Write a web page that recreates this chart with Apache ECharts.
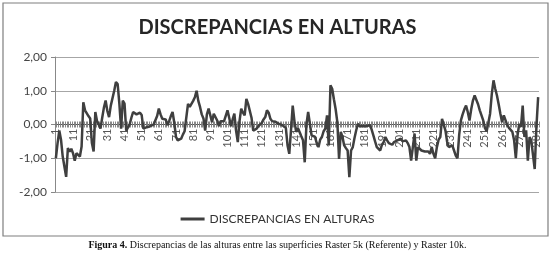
<!DOCTYPE html>
<html><head><meta charset="utf-8">
<script src="https://cdn.jsdelivr.net/npm/echarts@6/dist/echarts.min.js"></script>
<style>html,body{margin:0;padding:0;background:#fff}#c{width:555px;height:253px}</style>
</head><body><div id="c"></div>
<script>
const title = 'DISCREPANCIAS EN ALTURAS';
const seriesName = 'DISCREPANCIAS EN ALTURAS';
const caption = 'Discrepancias de las alturas entre las superficies Raster 5k (Referente) y Raster 10k.';
const yTicks = [-2, -1, 0, 1, 2];
const values = [
-1.00,-0.55,-0.18,-0.45,-0.95,-1.25,-1.55,-0.70,-0.80,-0.72,
-0.85,-1.07,-0.85,-0.90,-0.95,-0.65,0.66,0.42,0.45,0.25,
0.18,-0.55,-0.80,0.37,0.10,0.00,-0.12,0.20,0.50,0.71,
0.40,0.22,0.56,0.52,1.00,1.26,1.20,0.62,-0.12,0.71,
0.62,-0.18,-0.22,0.00,0.20,0.37,0.33,0.30,0.35,0.35,
0.28,-0.12,-0.08,-0.08,-0.10,-0.05,-0.06,0.00,0.05,0.25,
0.47,0.30,0.17,0.20,0.15,-0.02,0.10,0.25,0.37,0.05,
-0.37,-0.47,-0.45,-0.42,-0.30,-0.20,-0.15,0.61,0.52,0.55,
0.70,0.81,1.00,0.70,0.52,0.30,0.18,-0.18,0.30,0.47,
0.42,0.07,0.32,0.30,0.12,-0.05,0.10,0.12,0.10,0.12,
0.42,0.20,-0.05,0.15,0.32,-0.18,-0.52,0.10,0.47,0.35,
0.27,0.76,0.61,0.56,0.20,-0.18,-0.20,-0.12,-0.05,-0.02,
0.05,0.15,0.22,0.42,0.35,0.17,0.10,0.07,0.08,0.07,
0.02,0.00,-0.02,-0.07,-0.10,-0.62,-0.87,-0.17,0.56,0.10,
-0.22,-0.10,-0.22,-0.35,-0.47,-1.12,0.00,0.37,0.37,-0.32,
-0.30,-0.37,-0.55,-0.67,-0.45,-0.37,-0.20,-0.12,0.27,-0.62,
1.16,1.06,0.75,0.46,0.07,-1.02,-0.22,-0.37,-0.62,-0.70,
-0.77,-1.56,-0.77,-0.67,-0.40,-0.17,0.02,-0.05,-0.07,-0.05,
-0.02,-0.05,-0.07,-0.02,-0.15,-0.32,-0.50,-0.67,-0.72,-0.77,
-0.60,-0.52,-0.37,-0.47,-0.55,-0.57,-0.60,-0.52,-0.50,-0.47,
-0.45,-0.42,-0.50,-0.52,-0.47,-0.55,-0.67,-1.07,-0.67,-0.27,
-1.07,-0.67,-0.62,-0.77,-0.72,-0.80,-0.77,-0.80,-0.87,-0.67,
-0.87,-1.00,-0.67,-0.45,-0.37,0.17,0.12,-0.18,-0.52,-0.67,
-0.72,-0.62,-0.77,-0.92,-1.00,-0.30,0.12,0.30,0.45,0.56,
0.37,0.12,0.45,0.71,0.86,0.86,0.60,0.42,0.37,0.12,
-0.10,-0.20,0.05,0.32,0.91,1.31,1.06,0.86,0.60,0.32,
0.07,0.27,0.27,-0.02,-0.10,-0.12,-0.22,-0.47,-1.00,-0.32,
0.02,-0.07,0.56,-0.37,-0.17,-1.07,-0.37,-0.47,-0.90,-1.32,
-0.07,0.81
];
const categories = values.map((v, i) => String(i + 1));

const GRID_TOP = 57, GRID_H = 135;
const chart = echarts.init(document.getElementById('c'), null, {renderer: 'canvas'});
const fmt = v => v.toFixed(2).replace('.', ',');
// x axis placed at the y=0 level (middle of the symmetric -2..2 range)
const zeroOffset = -GRID_H / 2;
chart.setOption({
  animation: false,
  backgroundColor: '#fff',
  title: {
    text: title, left: 'center', top: 13,
    textStyle: {fontFamily: 'Lato', fontWeight: 'bold', fontSize: 20, color: '#262626'}
  },
  legend: {
    top: 208, left: 'center', icon: 'rect', itemWidth: 24, itemHeight: 3, itemGap: 4,
    textStyle: {fontFamily: 'Lato', fontSize: 12, color: '#333'},
    data: [seriesName]
  },
  grid: {left: 55, right: 16, top: GRID_TOP, height: GRID_H, containLabel: false},
  xAxis: [{
    type: 'category', data: categories, boundaryGap: true, position: 'bottom', offset: zeroOffset,
    axisLine: {onZero: false, lineStyle: {color: '#555', width: 1}},
    axisTick: {show: true, interval: 0, length: 3, lineStyle: {color: '#888'}},
    axisLabel: {interval: 9, rotate: 90, fontFamily: 'Lato', fontSize: 11, color: '#555', margin: 4},
    splitLine: {show: false}
  }, {
    type: 'category', data: categories, boundaryGap: true, position: 'bottom', offset: zeroOffset,
    axisLine: {onZero: false, lineStyle: {color: '#555', width: 1}},
    axisTick: {show: true, inside: true, interval: 0, length: 3, lineStyle: {color: '#888'}},
    axisLabel: {show: false}, splitLine: {show: false}
  }],
  yAxis: {
    type: 'value', min: -2, max: 2, interval: 1,
    axisLine: {show: true, lineStyle: {color: '#888'}},
    axisTick: {show: true, length: 4, lineStyle: {color: '#888'}},
    axisLabel: {formatter: fmt, fontFamily: 'Lato', fontSize: 12, color: '#444', margin: 8},
    splitLine: {show: true, lineStyle: {color: '#a6a6a6', width: 1}}
  },
  series: [{
    name: seriesName, type: 'line', data: values, xAxisIndex: 0,
    symbol: 'none', lineStyle: {color: '#3f3f3f', width: 2.5}, itemStyle: {color: '#3f3f3f'}, z: 5
  }],
  graphic: [
    {type: 'rect', shape: {x: 3, y: 3, width: 545, height: 233}, style: {fill: 'none', stroke: '#7f7f7f', lineWidth: 1.2}, silent: true},
    {type: 'text', left: 'center', top: 240, style: {
      text: '{b|Figura 4.} ' + caption,
      font: '10px "Liberation Serif"', fill: '#111',
      rich: {b: {fontWeight: 'bold', fontFamily: 'Liberation Serif', fontSize: 10}}
    }}
  ]
});
</script></body></html>
